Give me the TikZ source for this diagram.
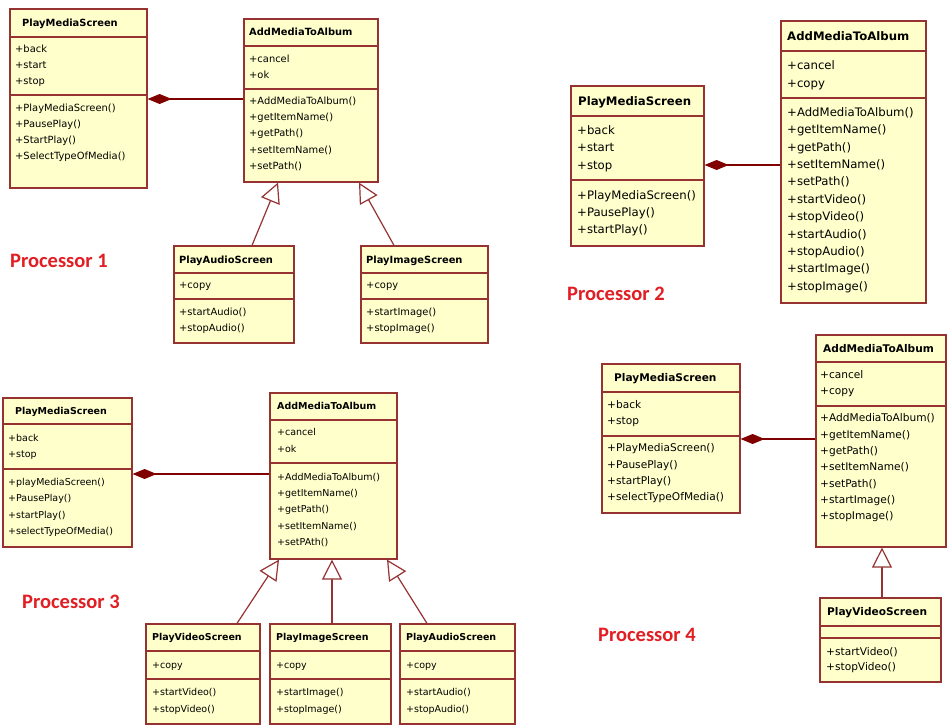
\documentclass[tikz,border=0pt]{standalone}
\usepackage{fontspec}
\setmainfont{DejaVu Sans}
\newfontfamily\labfont{Carlito}
\usetikzlibrary{arrows.meta,fit}
\definecolor{boxfill}{RGB}{255,255,204}
\definecolor{boxline}{RGB}{150,50,50}
\definecolor{darkred}{RGB}{128,0,0}
\definecolor{labred}{RGB}{225,30,35}
\newcommand\fsz{\fontsize{9.8}{12}\selectfont}
\newcommand\bofs{3.5}
\tikzset{
  classbox/.style={draw=boxline, fill=boxfill, line width=1.2pt, inner sep=0pt},
  divider/.style={draw=boxline, line width=1.2pt},
  umltext/.style={anchor=base west, inner sep=0pt, font=\fsz},
  titletext/.style={anchor=base west, inner sep=0pt, font=\fsz\bfseries},
  comp/.style={draw=darkred, line width=1.2pt, {Diamond[length=24pt,width=10pt,fill=darkred]}-},
  gen/.style={draw=boxline, line width=1.2pt, -{Triangle[open,length=20pt,width=20pt,fill=white]}},
  proclabel/.style={text=labred, font=\labfont\bfseries\fontsize{20.5}{24}\selectfont, anchor=west, inner sep=0pt},
}
% name, x1, y1, x2, y2, d1, d2, title, title x offset
\newcommand\umlbox[9]{%
  \node[classbox, fit={(#2,#3) (#4,#5)}] (#1) {};
  \draw[divider] (#2,#6) -- (#4,#6);
  \draw[divider] (#2,#7) -- (#4,#7);
  \node[titletext] (#1-title) at ({#2+#9},{(#3+#6)/2+\bofs}) {#8};
}
% name, x, y of first line centre, spacing, list
\newcommand\umllines[5]{%
  \foreach \s [count=\i] in {#5} {
    \node[umltext] (#1-\i) at ({#2},{#3+(\i-1)*#4+\bofs}) {+\s};
  }
}
\begin{document}
\begin{tikzpicture}[x=1pt,y=-1pt]
\useasboundingbox[fill=white] (0,0) rectangle (947,725);

% ---------------- Processor 1 ----------------
\begin{scope}
\renewcommand\fsz{\fontsize{9.9}{12}\selectfont}
\renewcommand\bofs{3.5}
\umlbox{pms1}{10}{9}{147}{188}{37}{95}{PlayMediaScreen}{12}
\umllines{pms1a}{15}{49}{16}{back,start,stop}
\umllines{pms1m}{15}{108}{16}{PlayMediaScreen(),PausePlay(),StartPlay(),SelectTypeOfMedia()}
\umlbox{add1}{244}{19}{378}{182}{46}{89}{AddMediaToAlbum}{5}
\umllines{add1a}{249}{59}{15.5}{cancel,ok}
\umllines{add1m}{249}{101}{16.2}{AddMediaToAlbum(),getItemName(),getPath(),setItemName(),setPath()}
\umlbox{aud1}{174}{246}{294}{343}{273}{299}{PlayAudioScreen}{5}
\umllines{aud1a}{179}{285}{16}{copy}
\umllines{aud1m}{179}{312}{16}{startAudio(),stopAudio()}
\umlbox{img1}{361}{246}{488}{343}{273}{299}{PlayImageScreen}{5}
\umllines{img1a}{366}{285}{16}{copy}
\umllines{img1m}{366}{312}{16}{startImage(),stopImage()}
\draw[comp] (pms1.east |- 0,99) -- (add1.west |- 0,99);
\draw[gen] (aud1.north -| 252,0) -- (add1.south -| 278,0);
\draw[gen] (img1.north -| 394,0) -- (add1.south -| 359,0);
\node[proclabel] (lab1) at (10,261) {Processor 1};
\end{scope}

% ---------------- Processor 2 ----------------
\begin{scope}
\renewcommand\fsz{\fontsize{11.7}{14}\selectfont}
\renewcommand\bofs{4.2}
\umlbox{pms2}{571}{86}{704}{246}{116}{180}{PlayMediaScreen}{7}
\umllines{pms2a}{577}{130}{17.5}{back,start,stop}
\umllines{pms2m}{577}{195}{17}{PlayMediaScreen(),PausePlay(),startPlay()}
\umlbox{add2}{781}{21}{926}{303}{51}{98}{AddMediaToAlbum}{6}
\umllines{add2a}{787}{65}{18}{cancel,copy}
\umllines{add2m}{787}{112}{17.4}{AddMediaToAlbum(),getItemName(),getPath(),setItemName(),setPath(),startVideo(),stopVideo(),startAudio(),stopAudio(),startImage(),stopImage()}
\draw[comp] (pms2.east |- 0,165) -- (add2.west |- 0,165);
\node[proclabel] (lab2) at (567,294) {Processor 2};
\end{scope}

% ---------------- Processor 3 ----------------
\begin{scope}
\renewcommand\fsz{\fontsize{9.5}{12}\selectfont}
\renewcommand\bofs{3.4}
\umlbox{pms3}{3}{398}{132}{547}{424}{469}{PlayMediaScreen}{12}
\umllines{pms3a}{8}{438}{16}{back,stop}
\umllines{pms3m}{8}{482}{16.3}{playMediaScreen(),PausePlay(),startPlay(),selectTypeOfMedia()}
\umlbox{add3}{270}{393}{397}{559}{420}{463}{AddMediaToAlbum}{7}
\umllines{add3a}{277}{432}{17}{cancel,ok}
\umllines{add3m}{277}{477}{16.2}{AddMediaToAlbum(),getItemName(),getPath(),setItemName(),setPAth()}
\umlbox{vid3}{146}{624}{260}{724}{651}{679}{PlayVideoScreen}{6}
\umllines{vid3a}{152}{665}{16}{copy}
\umllines{vid3m}{152}{692}{17}{startVideo(),stopVideo()}
\umlbox{img3}{270}{624}{391}{724}{651}{679}{PlayImageScreen}{6}
\umllines{img3a}{276}{665}{16}{copy}
\umllines{img3m}{276}{692}{17}{startImage(),stopImage()}
\umlbox{aud3}{400}{624}{515}{724}{651}{679}{PlayAudioScreen}{6}
\umllines{aud3a}{406}{665}{16}{copy}
\umllines{aud3m}{406}{692}{17}{startAudio(),stopAudio()}
\draw[comp] (pms3.east |- 0,474) -- (add3.west |- 0,474);
\draw[gen] (vid3.north -| 237,0) -- (add3.south -| 279,0);
\draw[gen] (img3.north -| 332,0) -- (add3.south -| 332,0);
\draw[gen] (aud3.north -| 427,0) -- (add3.south -| 387,0);
\node[proclabel] (lab3) at (22,602) {Processor 3};
\end{scope}

% ---------------- Processor 4 ----------------
\begin{scope}
\renewcommand\fsz{\fontsize{10.6}{13}\selectfont}
\renewcommand\bofs{3.8}
\umlbox{pms4}{602}{364}{740}{513}{392}{436}{PlayMediaScreen}{12}
\umllines{pms4a}{607}{405}{16}{back,stop}
\umllines{pms4m}{607}{448}{16.3}{PlayMediaScreen(),PausePlay(),startPlay(),selectTypeOfMedia()}
\umlbox{add4}{816}{335}{946}{547}{362}{406}{AddMediaToAlbum}{7}
\umllines{add4a}{820}{375}{16}{cancel,copy}
\umllines{add4m}{820}{418}{16.3}{AddMediaToAlbum(),getItemName(),getPath(),setItemName(),setPath(),startImage(),stopImage()}
\umlbox{vid4}{820}{598}{941}{682}{626}{638}{PlayVideoScreen}{7}
\umllines{vid4m}{826}{652}{15}{startVideo(),stopVideo()}
\draw[comp] (pms4.east |- 0,439) -- (add4.west |- 0,439);
\draw[gen] (vid4.north -| 882,0) -- (add4.south -| 882,0);
\node[proclabel] (lab4) at (598,635) {Processor 4};
\end{scope}
\end{tikzpicture}
\end{document}
